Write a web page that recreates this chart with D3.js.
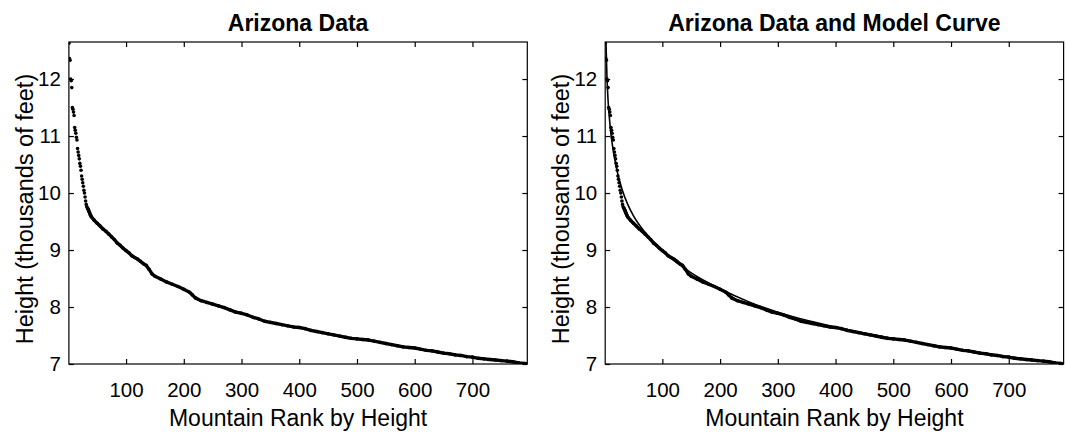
<!DOCTYPE html>
<html>
<head>
<meta charset="utf-8">
<script src="https://cdn.jsdelivr.net/npm/d3@7"></script>
<style>
  body { margin: 0; background: #fff; }
  text { font-family: "Liberation Sans", Arial, sans-serif; fill: #000; }
</style>
</head>
<body>
<div id="chart"></div>
<script>
// mountain rank (x) and height in thousands of feet (y)
var ranks = [1, 2, 3, 4, 5, 6, 7, 8, 9, 10, 11, 12, 13, 14, 15, 16, 17, 18, 19, 20,
  21, 22, 23, 24, 25, 26, 27, 28, 29, 30, 31, 32, 33, 34, 35, 36, 37, 38, 39, 40,
  45, 50, 55, 60, 65, 70, 75, 80, 85, 90, 95, 100, 105, 110, 115, 120, 125, 130, 135, 140,
  145, 150, 160, 170, 180, 190, 200, 210, 215, 220, 230, 240, 250, 260, 270, 280, 290, 300,
  310, 320, 330, 340, 350, 360, 370, 380, 390, 400, 410, 420, 430, 440, 450, 460, 470, 480,
  490, 500, 510, 520, 530, 540, 550, 560, 570, 580, 590, 600, 610, 620, 630, 640, 650, 660,
  670, 680, 690, 700, 710, 720, 730, 740, 750, 760, 770, 780, 790, 795];
var heights = [12.63, 12.36, 12.33, 12.0, 11.97, 11.85, 11.50, 11.47, 11.42, 11.36, 11.15, 11.10, 11.05, 10.98, 10.93, 10.78, 10.72, 10.66, 10.60, 10.52,
  10.47, 10.40, 10.30, 10.24, 10.18, 10.12, 10.05, 10.00, 9.93, 9.86, 9.80, 9.76, 9.74, 9.72, 9.70, 9.67, 9.65, 9.62, 9.60, 9.58,
  9.52, 9.47, 9.42, 9.37, 9.33, 9.28, 9.23, 9.18, 9.12, 9.08, 9.03, 8.99, 8.95, 8.90, 8.87, 8.84, 8.80, 8.76, 8.73, 8.66,
  8.58, 8.54, 8.49, 8.44, 8.40, 8.36, 8.31, 8.26, 8.21, 8.16, 8.11, 8.08, 8.05, 8.02, 7.99, 7.95, 7.91, 7.89,
  7.86, 7.82, 7.79, 7.75, 7.73, 7.71, 7.69, 7.67, 7.65, 7.64, 7.62, 7.59, 7.57, 7.55, 7.53, 7.51, 7.49, 7.47,
  7.45, 7.44, 7.43, 7.42, 7.40, 7.38, 7.36, 7.34, 7.32, 7.30, 7.29, 7.28, 7.26, 7.24, 7.23, 7.21, 7.19, 7.18,
  7.16, 7.15, 7.13, 7.12, 7.10, 7.09, 7.08, 7.07, 7.06, 7.05, 7.04, 7.02, 7.01, 7.00];

// model curve
var modelRanks = [2.4, 4, 6, 8, 10, 15, 20, 30, 40, 50, 70, 100, 150, 200, 250, 300, 400, 500, 600, 700, 795];
var modelHeights = [12.63, 12.05, 11.62, 11.35, 11.12, 10.74, 10.46, 10.07, 9.80, 9.60, 9.31, 8.99, 8.60, 8.32, 8.09, 7.91, 7.65, 7.45, 7.28, 7.13, 7.0];

var xTicks = [100, 200, 300, 400, 500, 600, 700];
var yTicks = [7, 8, 9, 10, 11, 12];

var W = 1066, H = 434;
var svg = d3.select("#chart").append("svg")
  .attr("width", W)
  .attr("height", H);

var points = ranks.map(function(r, i) { return {r: r, h: heights[i]}; });
var model = modelRanks.map(function(r, i) { return {r: r, h: modelHeights[i]}; });

function drawPanel(left, right, title, withModel, id) {
  var top = 42, bottom = 364;

  var x = d3.scaleLinear().domain([1, 795]).range([left, right]);
  var y = d3.scaleLinear().domain([7, 12.65]).range([bottom, top]);

  svg.append("clipPath").attr("id", id)
    .append("rect")
      .attr("x", left).attr("y", top)
      .attr("width", right - left).attr("height", bottom - top);

  var g = svg.append("g");

  // ticks point inward on all four sides
  g.append("g")
    .attr("transform", "translate(0," + bottom + ")")
    .call(d3.axisBottom(x).tickValues(xTicks).tickSize(-5).tickPadding(18))
    .call(function(a) {
      a.select(".domain").remove();
      a.selectAll("text").attr("font-size", 20.5).attr("font-family", null);
    });
  g.append("g")
    .attr("transform", "translate(0," + top + ")")
    .call(d3.axisTop(x).tickValues(xTicks).tickSize(-5).tickFormat(""))
    .call(function(a) { a.select(".domain").remove(); });
  g.append("g")
    .attr("transform", "translate(" + left + ",0)")
    .call(d3.axisLeft(y).tickValues(yTicks).tickSize(-5).tickPadding(8).tickFormat(d3.format("d")))
    .call(function(a) {
      a.select(".domain").remove();
      a.selectAll("text").attr("font-size", 20.5).attr("font-family", null);
    });
  g.append("g")
    .attr("transform", "translate(" + right + ",0)")
    .call(d3.axisRight(y).tickValues(yTicks).tickSize(-5).tickFormat(""))
    .call(function(a) { a.select(".domain").remove(); });
  g.selectAll(".tick line").attr("stroke", "#000").attr("stroke-width", 1.2);

  var plot = g.append("g").attr("clip-path", "url(#" + id + ")");

  // dense part of the data reads as a thick line of dots
  var line = d3.line()
    .x(function(d) { return x(d.r); })
    .y(function(d) { return y(d.h); });
  plot.append("path")
    .datum(points.filter(function(d) { return d.r >= 33; }))
    .attr("d", line)
    .attr("fill", "none")
    .attr("stroke", "#000")
    .attr("stroke-width", 3.4)
    .attr("stroke-linejoin", "round");

  plot.selectAll("circle")
    .data(points)
    .enter()
    .append("circle")
      .attr("cx", function(d) { return x(d.r); })
      .attr("cy", function(d) { return y(d.h); })
      .attr("r", 1.8)
      .attr("fill", "#000");

  if (withModel) {
    plot.append("path")
      .datum(model)
      .attr("d", line.curve(d3.curveMonotoneX))
      .attr("fill", "none")
      .attr("stroke", "#000")
      .attr("stroke-width", 1.6);
  }

  // box
  g.append("rect")
    .attr("x", left).attr("y", top)
    .attr("width", right - left).attr("height", bottom - top)
    .attr("fill", "none")
    .attr("stroke", "#000")
    .attr("stroke-width", 1.2);

  var cx = (left + right) / 2;
  g.append("text")
    .attr("x", cx).attr("y", 31)
    .attr("text-anchor", "middle")
    .attr("font-size", 23)
    .attr("font-weight", "bold")
    .text(title);

  g.append("text")
    .attr("x", cx).attr("y", 426)
    .attr("text-anchor", "middle")
    .attr("font-size", 23)
    .text("Mountain Rank by Height");

  g.append("text")
    .attr("transform", "translate(" + (left - 36) + "," + ((top + bottom) / 2 + 6) + ") rotate(-90)")
    .attr("text-anchor", "middle")
    .attr("font-size", 23.5)
    .text("Height (thousands of feet)");
}

drawPanel(68.9, 527.3, "Arizona Data", false, "clipL");
drawPanel(605.2, 1063.6, "Arizona Data and Model Curve", true, "clipR");
</script>
</body>
</html>
